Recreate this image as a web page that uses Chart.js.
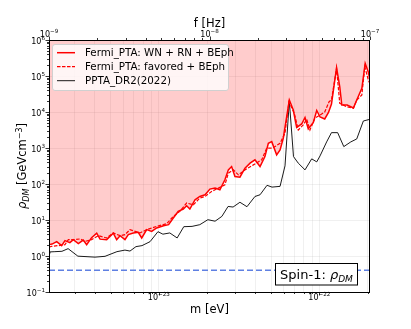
<!DOCTYPE html>
<html>
<head>
<meta charset="utf-8">
<script src="https://cdn.jsdelivr.net/npm/chart.js@4.4.0/dist/chart.umd.min.js"></script>
<style>
  html, body { margin: 0; padding: 0; background: #fff; }
  #wrap { width: 411px; height: 329px; }
</style>
</head>
<body>
<div id="wrap"><canvas id="c" width="411" height="329"></canvas></div>
<script>
/* ---- data ---- */

// axis limits
const M_MIN = 2.068e-24, M_MAX = 2.068e-22;   // m [eV]
const F_MIN = 1e-9,      F_MAX = 1e-7;        // f [Hz]
const Y_MIN = 0.1,       Y_MAX = 1e6;         // rho [GeV cm^-3]

// labelled decades
const M_TICKS = [1e-23, 1e-22];
const F_TICKS = [1e-9, 1e-8, 1e-7];
const Y_TICKS = [1e-1, 1e0, 1e1, 1e2, 1e3, 1e4, 1e5, 1e6];

// Fermi_PTA: WN + RN + BEph (solid red, shaded above)
const M_RED = [2.07e-24, 2.16e-24, 2.31e-24, 2.48e-24, 2.60e-24, 2.79e-24, 2.93e-24, 3.15e-24, 3.38e-24, 3.55e-24,
  3.81e-24, 4.10e-24, 4.30e-24, 4.73e-24, 5.20e-24, 5.46e-24, 5.73e-24, 6.15e-24, 6.45e-24, 6.93e-24,
  7.44e-24, 7.82e-24, 8.40e-24, 9.02e-24, 9.69e-24, 1.07e-23, 1.15e-23, 1.23e-23, 1.32e-23, 1.42e-23,
  1.49e-23, 1.56e-23, 1.68e-23, 1.80e-23, 1.94e-23, 2.08e-23, 2.24e-23, 2.40e-23, 2.58e-23, 2.71e-23,
  2.84e-23, 2.98e-23, 3.20e-23, 3.44e-23, 3.70e-23, 3.97e-23, 4.27e-23, 4.58e-23, 4.81e-23, 5.05e-23,
  5.42e-23, 5.69e-23, 5.96e-23, 6.50e-23, 6.88e-23, 7.22e-23, 7.76e-23, 8.14e-23, 8.53e-23, 9.17e-23,
  9.63e-23, 1.01e-22, 1.08e-22, 1.14e-22, 1.19e-22, 1.28e-22, 1.34e-22, 1.38e-22, 1.49e-22, 1.63e-22,
  1.71e-22, 1.84e-22, 1.93e-22, 2.02e-22, 2.07e-22];
const RHO_RED = [2.07, 2.14, 2.50, 1.94, 2.67, 2.35, 2.85, 2.20, 2.76, 2.07,
  3.23, 4.31, 2.94, 2.85, 4.31, 2.85, 3.67, 2.85, 3.92, 4.37,
  4.54, 3.17, 5.39, 4.83, 6.00, 6.95, 7.41, 11.4, 17.3, 20.2,
  24.9, 20.2, 36.5, 45.0, 50.2, 72.2, 76.9, 69.1, 131, 247,
  305, 161, 155, 275, 379, 468, 305, 578, 1358, 1504,
  644, 886, 1867, 21500, 11360, 3720, 4650, 7040, 3380, 5120,
  11000, 7270, 6400, 9690, 16700, 171000, 50200, 15600, 15600, 12900,
  21500, 45400, 223000, 128000, 72200];

// Fermi_PTA: favored + BEph (dashed red)
const M_DASH = [2.07e-24, 2.15e-24, 2.36e-24, 2.60e-24, 2.73e-24, 3.00e-24, 3.23e-24, 3.47e-24, 3.81e-24, 4.19e-24,
  4.73e-24, 5.20e-24, 5.73e-24, 6.15e-24, 6.61e-24, 7.63e-24, 8.40e-24, 9.69e-24, 1.12e-23, 1.23e-23,
  1.35e-23, 1.49e-23, 1.64e-23, 1.80e-23, 1.94e-23, 2.13e-23, 2.35e-23, 2.58e-23, 2.71e-23, 2.91e-23,
  3.13e-23, 3.44e-23, 3.88e-23, 4.37e-23, 4.70e-23, 5.05e-23, 5.29e-23, 5.69e-23, 6.11e-23, 6.47e-23,
  6.98e-23, 7.39e-23, 7.94e-23, 8.34e-23, 8.74e-23, 9.39e-23, 1.01e-22, 1.08e-22, 1.15e-22, 1.19e-22,
  1.28e-22, 1.34e-22, 1.48e-22, 1.63e-22, 1.71e-22, 1.84e-22, 1.92e-22, 2.02e-22, 2.07e-22];
const RHO_DASH = [1.76, 1.86, 1.94, 2.07, 2.85, 2.85, 2.98, 2.55, 2.85, 3.67,
  3.17, 4.37, 3.67, 3.92, 5.39, 4.37, 5.39, 6.65, 7.90, 12.6,
  17.3, 29.6, 26.5, 40.7, 45.0, 61.9, 76.9, 95.0, 200, 247,
  180, 247, 340, 468, 987, 987, 1094, 1358, 2570, 19300,
  9200, 3170, 4360, 6280, 3170, 6800, 8260, 10000, 19300, 21500,
  162000, 17400, 14000, 12700, 21500, 29600, 180000, 76900, 59700];

// PPTA_DR2(2022) (black)
const M_PPTA = [2.07e-24, 2.10e-24, 2.25e-24, 2.49e-24, 2.72e-24, 3.13e-24, 4.00e-24, 4.62e-24, 5.48e-24, 6.15e-24,
  6.61e-24, 7.20e-24, 7.85e-24, 8.81e-24, 9.87e-24, 1.06e-23, 1.17e-23, 1.30e-23, 1.43e-23, 1.61e-23,
  1.80e-23, 2.02e-23, 2.24e-23, 2.47e-23, 2.70e-23, 2.90e-23, 3.20e-23, 3.54e-23, 3.97e-23, 4.27e-23,
  4.72e-23, 5.07e-23, 5.69e-23, 6.11e-23, 6.50e-23, 6.90e-23, 7.39e-23, 8.14e-23, 8.96e-23, 9.63e-23,
  1.01e-22, 1.11e-22, 1.19e-22, 1.30e-22, 1.42e-22, 1.57e-22, 1.71e-22, 1.88e-22, 2.07e-22];
const RHO_PPTA = [0.96, 1.30, 1.32, 1.35, 1.60, 0.99, 0.93, 0.98, 1.32, 1.46,
  1.37, 1.82, 1.94, 2.50, 4.74, 4.04, 4.37, 3.17, 6.52, 6.65,
  7.41, 10.2, 9.26, 12.6, 23.8, 22.9, 31.1, 23.4, 45.0, 50.2,
  92, 82, 86, 319, 20200, 578, 379, 247, 499, 412,
  604, 1476, 2670, 2670, 1094, 1476, 1787, 5630, 6280];

// local dark matter density line
const RHO_LOCAL = 0.4;

const LABELS = ['Fermi_PTA: WN + RN + BEph', 'Fermi_PTA: favored + BEph', 'PPTA_DR2(2022)'];


/* ---- helpers ---- */

const FONT = '"DejaVu Sans", sans-serif';

function zip(xs, ys) {
  return xs.map((x, i) => ({ x: x, y: ys[i] }));
}

function isDecade(v) {
  const l = Math.log10(v);
  return Math.abs(l - Math.round(l)) < 1e-6;
}

// 1..9 x 10^n ticks between min and max
function logTicks(min, max) {
  const out = [];
  for (let e = Math.floor(Math.log10(min)); e <= Math.ceil(Math.log10(max)); e++) {
    for (let k = 1; k <= 9; k++) {
      const v = k * Math.pow(10, e);
      if (v >= min * 0.999 && v <= max * 1.001) out.push({ value: v });
    }
  }
  return out;
}

function expText(v) {
  const n = Math.round(Math.log10(v));
  return n < 0 ? '\u2212' + (-n) : String(n);
}

// "10" with a superscript exponent; y = baseline of the "10"
function drawPow(ctx, v, x, y, align) {
  const e = expText(v);
  ctx.font = '8px ' + FONT;
  const wb = ctx.measureText('10').width;
  ctx.font = '5.6px ' + FONT;
  const we = ctx.measureText(e).width;
  const w = wb + we;
  const x0 = align === 'center' ? x - w / 2 : x - w;
  ctx.textAlign = 'left';
  ctx.textBaseline = 'alphabetic';
  ctx.font = '8px ' + FONT;
  ctx.fillText('10', x0, y);
  ctx.font = '5.6px ' + FONT;
  ctx.fillText(e, x0 + wb, y - 4);
}

// draws a run of [text, font, dy] pieces starting at x
function drawRuns(ctx, runs, x, y) {
  runs.forEach((r) => {
    ctx.font = r[1];
    ctx.fillText(r[0], x, y + r[2]);
    x += ctx.measureText(r[0]).width;
  });
}

function runsWidth(ctx, runs) {
  return runs.reduce((w, r) => { ctx.font = r[1]; return w + ctx.measureText(r[0]).width; }, 0);
}


/* ---- frame, ticks, labels, legend, annotation ---- */

const decor = {
  id: 'decor',
  afterDraw(chart) {
    const ctx = chart.ctx;
    const a = chart.chartArea;
    const sx = chart.scales.x, sf = chart.scales.x2, sy = chart.scales.y;
    ctx.save();

    // legend
    const lx = 52, ly = 44, lw = 176, lh = 46;
    ctx.beginPath();
    ctx.roundRect(lx + 0.5, ly + 0.5, lw, lh, 2.5);
    ctx.fillStyle = 'rgba(255,255,255,0.8)';
    ctx.fill();
    ctx.strokeStyle = '#d0d0d0';
    ctx.lineWidth = 1;
    ctx.stroke();
    const styles = chart.data.datasets.slice(0, 3);
    styles.forEach((d, i) => {
      const yy = 52.7 + i * 14;
      ctx.beginPath();
      ctx.strokeStyle = d.borderColor;
      ctx.lineWidth = d.borderWidth;
      ctx.setLineDash(d.borderDash || []);
      ctx.moveTo(57, yy);
      ctx.lineTo(75, yy);
      ctx.stroke();
      ctx.setLineDash([]);
      ctx.fillStyle = '#000';
      ctx.font = '10.3px ' + FONT;
      ctx.textAlign = 'left';
      ctx.textBaseline = 'middle';
      ctx.fillText(d.label, 85, yy + 0.5);
    });

    // Spin-1 box
    const bx = 275.5, by = 263.5, bw = 82, bh = 21.5;
    ctx.fillStyle = '#fff';
    ctx.fillRect(bx, by, bw, bh);
    ctx.strokeStyle = '#000';
    ctx.lineWidth = 1;
    ctx.strokeRect(bx, by, bw, bh);
    const spin = [['Spin-1: ', '13px ' + FONT, 0], ['\u03c1', 'italic 13px ' + FONT, 0], ['DM', 'italic 9px ' + FONT, 3]];
    ctx.fillStyle = '#000';
    ctx.textAlign = 'left';
    ctx.textBaseline = 'alphabetic';
    drawRuns(ctx, spin, bx + bw / 2 - runsWidth(ctx, spin) / 2, 278.5);

    // frame
    ctx.strokeStyle = '#000';
    ctx.lineWidth = 1;
    ctx.strokeRect(Math.round(a.left) + 0.5, Math.round(a.top) + 0.5,
      Math.round(a.right - a.left) - 1, Math.round(a.bottom - a.top));

    // tick marks
    ctx.lineWidth = 0.8;
    sx.ticks.forEach((t) => {
      const p = Math.round(sx.getPixelForValue(t.value)) + 0.5;
      const len = isDecade(t.value) ? 3.5 : 2;
      ctx.beginPath(); ctx.moveTo(p, a.bottom); ctx.lineTo(p, a.bottom + len); ctx.stroke();
    });
    sf.ticks.forEach((t) => {
      const p = Math.round(sf.getPixelForValue(t.value)) + 0.5;
      const len = isDecade(t.value) ? 3.5 : 2;
      ctx.beginPath(); ctx.moveTo(p, a.top); ctx.lineTo(p, a.top - len); ctx.stroke();
    });
    sy.ticks.forEach((t) => {
      const p = Math.round(sy.getPixelForValue(t.value)) + 0.5;
      const len = isDecade(t.value) ? 3.5 : 2;
      ctx.beginPath(); ctx.moveTo(a.left, p); ctx.lineTo(a.left - len, p); ctx.stroke();
    });

    // tick labels
    ctx.fillStyle = '#000';
    M_TICKS.forEach((v) => drawPow(ctx, v, sx.getPixelForValue(v), a.bottom + 7.5, 'center'));
    F_TICKS.forEach((v) => drawPow(ctx, v, sf.getPixelForValue(v), a.top - 3, 'center'));
    Y_TICKS.forEach((v) => drawPow(ctx, v, a.left - 4, sy.getPixelForValue(v) + 3.5, 'right'));

    // axis titles
    ctx.font = '11.5px ' + FONT;
    ctx.textAlign = 'center';
    ctx.textBaseline = 'alphabetic';
    ctx.fillText('f [Hz]', (a.left + a.right) / 2, 27);
    ctx.fillText('m [eV]', (a.left + a.right) / 2, 313);

    const ytitle = [
      ['\u03c1', 'italic 11.5px ' + FONT, 0],
      ['DM', 'italic 8px ' + FONT, 2.5],
      [' [GeVcm', '11.5px ' + FONT, 0],
      ['\u22123', '8px ' + FONT, -4.5],
      [']', '11.5px ' + FONT, 0],
    ];
    ctx.translate(26, (a.top + a.bottom) / 2);
    ctx.rotate(-Math.PI / 2);
    ctx.textAlign = 'left';
    drawRuns(ctx, ytitle, -runsWidth(ctx, ytitle) / 2, 0);

    ctx.restore();
  },
};


/* ---- chart ---- */

const gridColor = 'rgba(160,160,160,0.2)';

new Chart(document.getElementById('c'), {
  type: 'line',
  data: {
    datasets: [
      {
        label: LABELS[0],
        data: zip(M_RED, RHO_RED),
        borderColor: '#ff0000',
        borderWidth: 1.5,
        backgroundColor: 'rgba(255,0,0,0.2)',
        fill: 'end',
        pointRadius: 0,
        tension: 0,
      },
      {
        label: LABELS[1],
        data: zip(M_DASH, RHO_DASH),
        borderColor: '#ff0000',
        borderWidth: 1.2,
        borderDash: [3.5, 1.5],
        fill: false,
        pointRadius: 0,
        tension: 0,
      },
      {
        label: LABELS[2],
        data: zip(M_PPTA, RHO_PPTA),
        borderColor: '#000000',
        borderWidth: 0.9,
        fill: false,
        pointRadius: 0,
        tension: 0,
      },
      {
        label: 'local',
        data: [{ x: M_MIN, y: RHO_LOCAL }, { x: M_MAX, y: RHO_LOCAL }],
        borderColor: 'rgb(95,128,226)',
        borderWidth: 1.5,
        borderDash: [6, 3],
        fill: false,
        pointRadius: 0,
      },
    ],
  },
  options: {
    responsive: false,
    animation: false,
    events: [],
    layout: { padding: { left: 0, right: 41, top: 0, bottom: 0 } },
    plugins: { legend: { display: false }, tooltip: { enabled: false } },
    scales: {
      x: {
        type: 'logarithmic',
        position: 'bottom',
        min: M_MIN,
        max: M_MAX,
        afterBuildTicks: (s) => { s.ticks = logTicks(M_MIN, M_MAX); },
        afterFit: (s) => { s.height = 37; },
        ticks: { display: false, autoSkip: false },
        grid: { color: gridColor, lineWidth: 0.8, drawTicks: false },
        border: { display: false },
      },
      x2: {
        type: 'logarithmic',
        position: 'top',
        min: F_MIN,
        max: F_MAX,
        afterBuildTicks: (s) => { s.ticks = logTicks(F_MIN, F_MAX); },
        afterFit: (s) => { s.height = 40; },
        ticks: { display: false, autoSkip: false },
        grid: { display: false },
        border: { display: false },
      },
      y: {
        type: 'logarithmic',
        min: Y_MIN,
        max: Y_MAX,
        afterBuildTicks: (s) => { s.ticks = logTicks(Y_MIN, Y_MAX); },
        afterFit: (s) => { s.width = 49; },
        ticks: { display: false, autoSkip: false },
        grid: {
          color: (c) => (c.tick && isDecade(c.tick.value) ? gridColor : 'rgba(0,0,0,0)'),
          lineWidth: 0.8,
          drawTicks: false,
        },
        border: { display: false },
      },
    },
  },
  plugins: [decor],
});
</script>
</body>
</html>
